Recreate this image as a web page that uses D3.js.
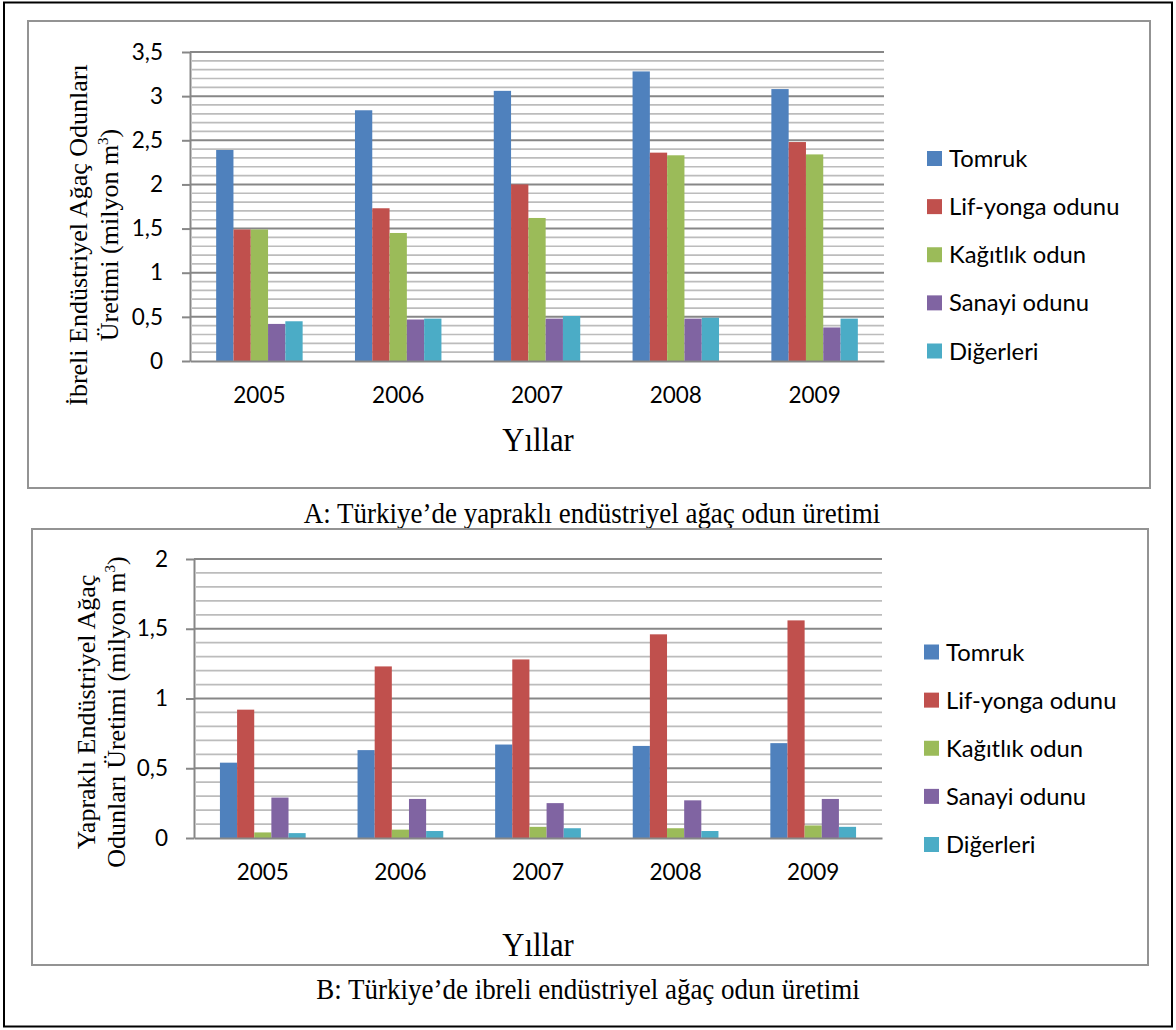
<!DOCTYPE html>
<html>
<head>
<meta charset="utf-8">
<script src="https://cdn.jsdelivr.net/npm/d3@7"></script>
<style>
  html, body { margin: 0; padding: 0; background: #fff; }
  svg { display: block; }
</style>
</head>
<body>
<svg id="fig" width="1176" height="1030"></svg>
<script>
// Categories and series
const years = ["2005", "2006", "2007", "2008", "2009"];
const seriesNames = ["Tomruk", "Lif-yonga odunu", "Kağıtlık odun", "Sanayi odunu", "Diğerleri"];
const seriesColors = ["#4F81BD", "#C0504D", "#9BBB59", "#8064A2", "#4BACC6"];

// Panel A values (milyon m³)
const aTomruk    = [2.39, 2.84, 3.06, 3.28, 3.08];
const aLifYonga  = [1.49, 1.73, 2.00, 2.36, 2.48];
const aKagitlik  = [1.49, 1.45, 1.62, 2.33, 2.34];
const aSanayi    = [0.42, 0.47, 0.48, 0.48, 0.38];
const aDigerleri = [0.45, 0.48, 0.51, 0.49, 0.48];

// Panel B values (milyon m³)
const bTomruk    = [0.54, 0.63, 0.67, 0.66, 0.68];
const bLifYonga  = [0.92, 1.23, 1.28, 1.46, 1.56];
const bKagitlik  = [0.04, 0.06, 0.08, 0.07, 0.09];
const bSanayi    = [0.29, 0.28, 0.25, 0.27, 0.28];
const bDigerleri = [0.035, 0.05, 0.07, 0.05, 0.08];

// Axis ticks
const aTicks = [0, 0.5, 1, 1.5, 2, 2.5, 3, 3.5];
const bTicks = [0, 0.5, 1, 1.5, 2];

// Texts
const aTitleLines = ["İbreli Endüstriyel Ağaç Odunları", "Üretimi (milyon m"];
const bTitleLines = ["Yapraklı Endüstriyel Ağaç", "Odunları Üretimi (milyon m"];
const xTitle = "Yıllar";
const aCaption = "A: Türkiye’de yapraklı endüstriyel ağaç odun üretimi";
const bCaption = "B: Türkiye’de ibreli endüstriyel ağaç odun üretimi";

const SANS = "Lato, 'Open Sans', sans-serif";
const SERIF = "'Liberation Serif', 'Times New Roman', serif";
const AXIS_GRAY = "#878787";
const SERIF_SQUEEZE = 0.9;   // serif lettering is set slightly condensed

const svg = d3.select("#fig");
svg.append("rect").attr("width", 1176).attr("height", 1030).attr("fill", "#fff");

const color = d3.scaleOrdinal().domain(seriesNames).range(seriesColors);
const trLocale = d3.formatLocale({ decimal: ",", thousands: ".", grouping: [3], currency: ["", " TL"] });
const fmt = trLocale.format(".1~f");

function serifLabel(parent, x, y, size, text) {
  return parent.append("text")
    .attr("transform", `translate(${x},${y}) scale(${SERIF_SQUEEZE},1)`)
    .attr("text-anchor", "middle")
    .attr("font-family", SERIF).attr("font-size", size).attr("fill", "#000")
    .text(text);
}

function drawPanel(opt) {
  const g = svg.append("g");

  // frame of the chart
  g.append("rect")
    .attr("x", opt.box[0]).attr("y", opt.box[1])
    .attr("width", opt.box[2]).attr("height", opt.box[3])
    .attr("fill", "#fff").attr("stroke", "#939393").attr("stroke-width", 2);

  const p = opt.plot;
  const y = d3.scaleLinear().domain([0, opt.yMax]).range([p.bottom, p.top]);
  const x0 = d3.scaleBand().domain(years).range([p.left, p.right]);
  const bw = x0.bandwidth();
  const x1 = d3.scaleBand().domain(seriesNames).range([bw * 0.1885, bw * 0.8115]);

  // minor gridlines every 0.1
  const minor = d3.range(1, Math.round(opt.yMax * 10) + 1)
    .map(i => i / 10)
    .filter(v => Math.abs(v * 2 - Math.round(v * 2)) > 1e-6);
  g.append("g").selectAll("line").data(minor).join("line")
    .attr("x1", p.left + 2).attr("x2", p.right)
    .attr("y1", d => y(d)).attr("y2", d => y(d))
    .attr("stroke", "#bcbcbc").attr("stroke-width", 1.7);

  // major gridlines
  g.append("g").selectAll("line").data(opt.ticks.filter(v => v > 0)).join("line")
    .attr("x1", p.left).attr("x2", p.right)
    .attr("y1", d => y(d)).attr("y2", d => y(d))
    .attr("stroke", AXIS_GRAY).attr("stroke-width", 2);

  // bars
  const groups = g.append("g").selectAll("g").data(years).join("g")
    .attr("transform", d => `translate(${x0(d)},0)`);
  groups.selectAll("rect")
    .data((yr, i) => seriesNames.map((s, k) => ({ s, v: opt.series[k][i] })))
    .join("rect")
    .attr("x", d => x1(d.s))
    .attr("width", x1.bandwidth())
    .attr("y", d => y(d.v))
    .attr("height", d => y(0) - y(d.v))
    .attr("fill", d => color(d.s));

  // y axis
  const ya = g.append("g")
    .attr("transform", `translate(${p.left},0)`)
    .call(d3.axisLeft(y).tickValues(opt.ticks).tickFormat(fmt)
      .tickSizeInner(8).tickSizeOuter(0).tickPadding(opt.tickPad));
  ya.attr("font-family", SANS).attr("font-size", 22.5);
  ya.select(".domain").attr("stroke", AXIS_GRAY).attr("stroke-width", 2);
  ya.selectAll(".tick line").attr("stroke", AXIS_GRAY).attr("stroke-width", 2);
  ya.selectAll(".tick text").attr("fill", "#000");

  // x axis
  const xa = g.append("g")
    .attr("transform", `translate(0,${p.bottom})`)
    .call(d3.axisBottom(x0).tickSize(0).tickPadding(26));
  xa.attr("font-family", SANS).attr("font-size", 22.5);
  xa.select(".domain").attr("stroke", AXIS_GRAY).attr("stroke-width", 2.2);
  xa.selectAll(".tick text").attr("fill", "#000");

  // y axis title (two lines, rotated)
  g.append("text")
    .attr("transform", `translate(${opt.titleX[0]},${opt.titleY}) rotate(-90)`)
    .attr("text-anchor", "middle")
    .attr("font-family", SERIF).attr("font-size", 26).attr("fill", "#000")
    .text(opt.titleLines[0]);
  const t2 = g.append("text")
    .attr("transform", `translate(${opt.titleX[1]},${opt.titleY}) rotate(-90)`)
    .attr("text-anchor", "middle")
    .attr("font-family", SERIF).attr("font-size", 26).attr("fill", "#000");
  t2.append("tspan").text(opt.titleLines[1]);
  t2.append("tspan").attr("dy", -10).attr("font-size", 15).text("3");
  t2.append("tspan").attr("dy", 10).text(")");

  // x axis title
  serifLabel(g, opt.xTitlePos[0], opt.xTitlePos[1], 34, xTitle);

  // legend
  const ly = d3.scalePoint().domain(seriesNames).range(opt.legendY);
  const lg = g.append("g").selectAll("g").data(seriesNames).join("g")
    .attr("transform", d => `translate(${opt.legendX},${ly(d)})`);
  lg.append("rect").attr("x", 0).attr("y", -7.5).attr("width", 15).attr("height", 15)
    .attr("fill", d => color(d));
  lg.append("text").attr("x", 22).attr("dy", "0.36em")
    .attr("font-family", SANS).attr("font-size", 23.8).attr("fill", "#000")
    .text(d => d);

  // caption under the frame
  serifLabel(svg, opt.captionPos[0], opt.captionPos[1], 30, opt.caption);
}

drawPanel({
  box: [28, 21, 1122, 467],
  plot: { left: 190, right: 884, top: 52, bottom: 361 },
  yMax: 3.5,
  ticks: aTicks,
  tickPad: 19,
  series: [aTomruk, aLifYonga, aKagitlik, aSanayi, aDigerleri],
  titleLines: aTitleLines,
  titleX: [87, 118],
  titleY: 235,
  xTitlePos: [538, 451],
  legendX: 927,
  legendY: [158.5, 351],
  caption: aCaption,
  captionPos: [592, 523]
});

drawPanel({
  box: [32, 529, 1116, 436],
  plot: { left: 194, right: 882, top: 559, bottom: 838 },
  yMax: 2,
  ticks: bTicks,
  tickPad: 18,
  series: [bTomruk, bLifYonga, bKagitlik, bSanayi, bDigerleri],
  titleLines: bTitleLines,
  titleX: [95, 125],
  titleY: 712,
  xTitlePos: [538, 956],
  legendX: 924,
  legendY: [652, 844.5],
  caption: bCaption,
  captionPos: [588, 999]
});

// outer border
svg.append("rect")
  .attr("x", 4).attr("y", 2.5).attr("width", 1168).attr("height", 1024)
  .attr("fill", "none").attr("stroke", "#000").attr("stroke-width", 2);
</script>
</body>
</html>
